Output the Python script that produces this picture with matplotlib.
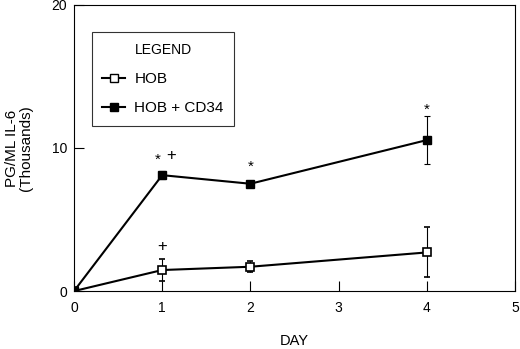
import matplotlib
matplotlib.use("Agg")
import matplotlib.pyplot as plt
from matplotlib.lines import Line2D

plt.rcParams['font.family'] = ['Liberation Sans', 'DejaVu Sans']

days = [0, 1, 2, 4]
hob = [0.0, 1.47, 1.7, 2.7]
hob_err = [0.0, 0.75, 0.4, 1.75]
cd34 = [0.0, 8.1, 7.5, 10.55]
cd34_err = [0.0, 0.3, 0.12, 1.7]

# significance marks (x, y, text)
marks = [(0.95, 9.2, "*"), (1.1, 9.5, "+"), (2.0, 8.7, "*"),
         (4.0, 12.7, "*"), (1.0, 3.1, "+")]

fig = plt.figure(figsize=(5.2, 3.49), dpi=100)
ax = fig.add_axes([0.1423, 0.166, 0.848, 0.82])

ax.errorbar(days, hob, yerr=hob_err, color='black', lw=1.5, marker='s',
            markersize=6, markerfacecolor='white', markeredgecolor='black',
            markeredgewidth=1.2, capsize=2.5, elinewidth=0.8, capthick=0.8)
ax.errorbar(days, cd34, yerr=cd34_err, color='black', lw=1.5, marker='s',
            markersize=6, markerfacecolor='black', markeredgecolor='black',
            capsize=2.5, elinewidth=0.8, capthick=0.8)

for x, y, t in marks:
    size = 11 if t == "*" else 12
    ax.text(x, y, t, ha='center', va='center', fontsize=size)

ax.set_xlim(0, 5)
ax.set_ylim(0, 20)
ax.set_xticks([0, 1, 2, 3, 4, 5])
ax.set_yticks([0, 10, 20])
ax.tick_params(direction='in', length=7, width=0.8, labelsize=10, pad=7)
ax.tick_params(axis='y', pad=5)
for s in ax.spines.values():
    s.set_linewidth(0.8)

ax.set_xlabel("DAY", fontsize=10.5, labelpad=14)
ax.set_ylabel("PG/ML IL-6\n(Thousands)", fontsize=11, labelpad=13,
              linespacing=1.0)

handles = [
    Line2D([], [], color='black', lw=1.5, marker='s', markersize=6,
           markerfacecolor='white', markeredgecolor='black'),
    Line2D([], [], color='black', lw=1.5, marker='s', markersize=6,
           markerfacecolor='black'),
]
leg = ax.legend(handles, ["HOB", "HOB + CD34"], title="LEGEND",
                loc='upper left', bbox_to_anchor=(0.04, 0.905), fontsize=11,
                title_fontsize=10, fancybox=False, edgecolor='black',
                handlelength=1.5, handletextpad=0.6, labelspacing=1.0,
                borderpad=0.7, borderaxespad=0)
leg.get_frame().set_linewidth(0.8)

fig.savefig("out.png", dpi=100)
